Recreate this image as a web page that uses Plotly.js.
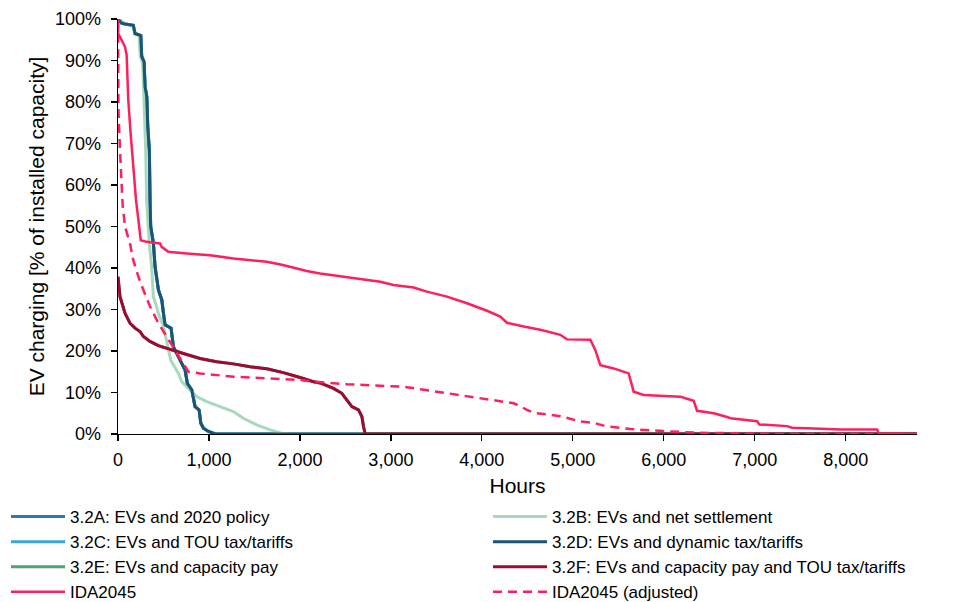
<!DOCTYPE html>
<html>
<head>
<meta charset="utf-8">
<script src="https://cdn.plot.ly/plotly-3.0.1.min.js"></script>
<style>html,body{margin:0;padding:0;background:#fff;}#chart{width:960px;height:602px;}</style>
</head>
<body>
<div id="chart"></div>
<script>
// Series names (legend labels)
const names = {
  A: '3.2A: EVs and 2020 policy',
  B: '3.2B: EVs and net settlement',
  C: '3.2C: EVs and TOU tax/tariffs',
  D: '3.2D: EVs and dynamic tax/tariffs',
  E: '3.2E: EVs and capacity pay',
  F: '3.2F: EVs and capacity pay and TOU tax/tariffs',
  IDA: 'IDA2045',
  IDAadj: 'IDA2045 (adjusted)'
};

// 3.2A (mostly hidden beneath 3.2D)
const hoursA = [0, 40, 77, 168, 188, 235, 251, 261, 287, 298, 317, 328, 345, 353, 360, 390, 408, 445, 482, 500, 518, 584, 610, 683, 738, 763, 812, 848, 892, 911, 940, 995, 1070, 8784];
const pctA   = [100, 99, 98.8, 98.5, 96.5, 96.2, 96, 91, 89.7, 83.7, 81.3, 74, 68.4, 56, 50, 45.9, 40.3, 34.7, 32.3, 29.1, 26.3, 25.5, 21, 17.8, 15.4, 12.2, 10.6, 6.6, 5.8, 2.6, 1.4, 0.6, 0, 0];

// 3.2C (mostly hidden beneath 3.2D)
const hoursC = [0, 40, 77, 168, 188, 235, 251, 261, 287, 298, 317, 328, 345, 353, 360, 390, 408, 445, 482, 500, 518, 584, 610, 683, 738, 763, 812, 848, 892, 911, 940, 995, 1070, 8784];
const pctC   = [100, 99, 98.8, 98.5, 96.5, 96.2, 96, 91, 89.7, 83.7, 81.3, 74, 68.4, 56, 50, 45.9, 40.3, 34.7, 32.3, 29.1, 26.3, 25.5, 21, 17.8, 15.4, 12.2, 10.6, 6.6, 5.8, 2.6, 1.4, 0.6, 0, 0];

// 3.2E (mostly hidden beneath 3.2F)
const hoursE = [0, 22, 77, 132, 187, 242, 279, 352, 444, 572, 719, 902, 1085, 1268, 1452, 1635, 1818, 2002, 2149, 2222, 2369, 2461, 2516, 2571, 2644, 2681, 2699, 2720, 8784];
const pctE   = [37.9, 33.1, 29.1, 26.7, 25.5, 24.7, 23.5, 22.3, 21.3, 20.5, 19.4, 18.2, 17.4, 16.9, 16.2, 15.7, 14.8, 13.6, 12.6, 12.3, 11, 9.8, 8.2, 6.6, 5.8, 4.2, 1.8, 0, 0];

// 3.2B
const hoursB = [0, 40, 77, 168, 185, 232, 245, 270, 280, 290, 305, 315, 330, 344, 370, 389, 420, 444, 499, 554, 580, 664, 701, 774, 865, 975, 1121, 1268, 1378, 1525, 1672, 1818, 1900, 8784];
const pctB   = [100, 99.5, 98.8, 98.5, 96.5, 96, 91, 89.5, 84, 78, 68, 56, 50, 46, 40.3, 33, 31, 29, 26, 20.2, 17.8, 14.6, 12.6, 11, 9, 7.8, 6.6, 5.4, 3.8, 2.2, 1, 0.1, 0, 0];

// 3.2D
const hoursD = [0, 40, 77, 168, 187, 234, 250, 260, 286, 297, 316, 327, 344, 352, 359, 389, 407, 444, 481, 499, 517, 583, 609, 682, 737, 762, 811, 847, 891, 910, 939, 994, 1067, 8784];
const pctD   = [100, 99, 98.8, 98.5, 96.5, 96.2, 96, 91, 89.7, 83.7, 81.3, 74, 68.4, 56, 50, 45.9, 40.3, 34.7, 32.3, 29.1, 26.3, 25.5, 21, 17.8, 15.4, 12.2, 10.6, 6.6, 5.8, 2.6, 1.4, 0.6, 0, 0];

// 3.2F
const hoursF = [0, 22, 77, 132, 187, 242, 279, 352, 444, 572, 719, 902, 1085, 1268, 1452, 1635, 1818, 2002, 2149, 2222, 2369, 2461, 2516, 2571, 2644, 2681, 2699, 2717, 8784];
const pctF   = [37.9, 33.1, 29.1, 26.7, 25.5, 24.7, 23.5, 22.3, 21.3, 20.5, 19.4, 18.2, 17.4, 16.9, 16.2, 15.7, 14.8, 13.6, 12.6, 12.3, 11, 9.8, 8.2, 6.6, 5.8, 4.2, 1.8, 0, 0];

// IDA2045
const hoursIDA = [0, 3, 40, 77, 95, 113, 139, 168, 198, 224, 250, 315, 462, 480, 535, 553, 755, 1012, 1268, 1452, 1635, 1800, 2002, 2075, 2222, 2516, 2883, 3029, 3250, 3396, 3616, 3836, 4056, 4203, 4276, 4460, 4643, 4863, 4936, 5193, 5248, 5303, 5449, 5614, 5669, 5779, 6183, 6238, 6329, 6366, 6550, 6696, 6733, 7026, 7050, 7356, 7411, 7649, 7942, 8345, 8363, 8784];
const pctIDA   = [100, 96.4, 94.9, 93.3, 91.3, 80.5, 72.4, 64.4, 56.4, 51.6, 46.7, 46.3, 45.9, 45.1, 44.3, 43.9, 43.5, 43.1, 42.3, 41.9, 41.5, 40.8, 39.7, 39.3, 38.7, 37.8, 36.7, 35.9, 35.3, 34.3, 33.1, 31.5, 29.7, 28.3, 26.8, 25.9, 25.1, 23.9, 22.8, 22.7, 20.2, 16.6, 15.8, 14.6, 10.2, 9.4, 9, 8.6, 8, 5.6, 5, 4.1, 3.8, 3.1, 2.3, 1.9, 1.5, 1.3, 1.1, 1.1, 0.2, 0];

// IDA2045 (adjusted)
const hoursIDAadj = [0, 2, 5, 22, 40, 51, 77, 132, 168, 224, 279, 352, 444, 535, 627, 719, 774, 902, 1085, 1268, 1488, 1708, 2002, 2149, 2516, 2883, 3140, 3323, 3616, 3983, 4350, 4423, 4496, 4570, 4863, 5083, 5230, 5358, 5633, 5999, 6366, 7063, 7300, 8784];
const pctIDAadj   = [100, 90, 78, 68.4, 57, 55.2, 50, 45.9, 41.9, 37.9, 34.7, 30.7, 26.7, 23.5, 20.2, 17, 15, 14.6, 14.2, 13.8, 13.6, 13.4, 13, 12.6, 12, 11.6, 11.4, 10.8, 9.8, 8.6, 7.4, 6.7, 5.8, 5.1, 4.3, 3, 2.7, 1.9, 1.2, 0.7, 0.3, 0.1, 0, 0];

// Axis ticks
const xTicks = [0, 1000, 2000, 3000, 4000, 5000, 6000, 7000, 8000];
const xTickText = ['0', '1,000', '2,000', '3,000', '4,000', '5,000', '6,000', '7,000', '8,000'];
const yTicks = [0, 10, 20, 30, 40, 50, 60, 70, 80, 90, 100];
const yTickText = ['0%', '10%', '20%', '30%', '40%', '50%', '60%', '70%', '80%', '90%', '100%'];

function tr(x, y, name, color, width, legend, dash) {
  return {
    type: 'scatter', mode: 'lines', x: x, y: y, name: name, legend: legend,
    line: {color: color, width: width, dash: dash || 'solid', shape: 'linear'},
    hoverinfo: 'skip'
  };
}

const data = [
  tr(hoursA, pctA, names.A, '#2E7BAA', 3, 'legend'),
  tr(hoursC, pctC, names.C, '#37A7DD', 3, 'legend'),
  tr(hoursE, pctE, names.E, '#4EA56E', 3, 'legend'),
  tr(hoursB, pctB, names.B, '#A9D9BC', 3, 'legend2'),
  tr(hoursD, pctD, names.D, '#1C5473', 3, 'legend2'),
  tr(hoursF, pctF, names.F, '#A00A32', 3, 'legend2'),
  tr(hoursIDA, pctIDA, names.IDA, '#FF1F5A', 2.5, 'legend'),
  tr(hoursIDAadj, pctIDAadj, names.IDAadj, '#FF1F5A', 2.5, 'legend2', '9px,6px')
];

const font = {family: 'Liberation Sans, Arial, sans-serif', color: '#000', size: 18};
const legendCommon = {
  orientation: 'v', xref: 'paper', yref: 'paper',
  xanchor: 'left', yanchor: 'top', y: (434 - 499) / 415,
  itemwidth: 54, bgcolor: 'rgba(0,0,0,0)', borderwidth: 0,
  font: {family: font.family, color: '#000', size: 17},
  itemclick: false, itemdoubleclick: false
};

const layout = {
  width: 960, height: 602,
  margin: {l: 118, r: 43, t: 19, b: 168, autoexpand: false},
  paper_bgcolor: '#fff', plot_bgcolor: '#fff',
  font: font,
  showlegend: true,
  legend: Object.assign({}, legendCommon, {x: (6 - 118) / 799}),
  legend2: Object.assign({}, legendCommon, {x: (488 - 118) / 799}),
  xaxis: {
    range: [0, 8784], tickmode: 'array', tickvals: xTicks, ticktext: xTickText,
    showgrid: false, zeroline: false, showline: true, linecolor: '#000', linewidth: 1.3,
    ticks: 'outside', ticklen: 6, tickwidth: 1.3, tickcolor: '#000',
    tickfont: {size: 18}, ticklabelstandoff: 3,
    title: {text: 'Hours', font: {size: 21}, standoff: 9},
    automargin: false, layer: 'below traces'
  },
  yaxis: {
    range: [0, 100], tickmode: 'array', tickvals: yTicks, ticktext: yTickText,
    showgrid: false, zeroline: false, showline: true, linecolor: '#000', linewidth: 1.3,
    ticks: 'outside', ticklen: 6, tickwidth: 1.3, tickcolor: '#000',
    tickfont: {size: 18}, ticklabelstandoff: 6,
    title: {text: 'EV charging [% of installed capacity]', font: {size: 21}, standoff: 4},
    automargin: false, layer: 'below traces'
  }
};

Plotly.newPlot('chart', data, layout, {staticPlot: true, displayModeBar: false});
</script>
</body>
</html>
